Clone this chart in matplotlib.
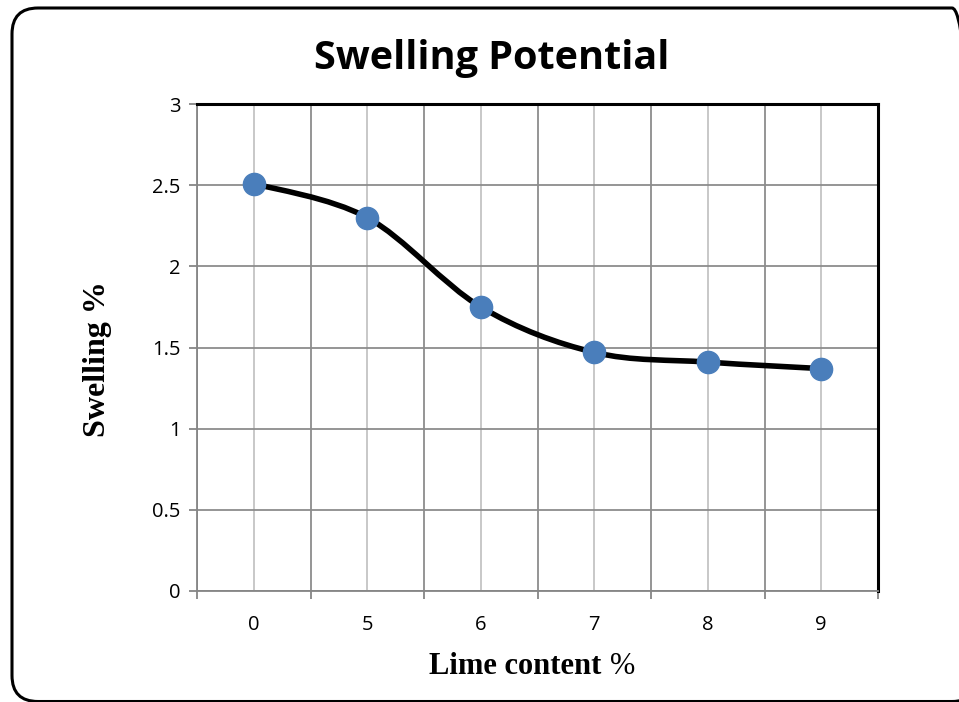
import numpy as np
import matplotlib
matplotlib.use("Agg")
import matplotlib.pyplot as plt
from matplotlib.path import Path
from matplotlib.patches import PathPatch, FancyBboxPatch
from matplotlib.transforms import IdentityTransform
from matplotlib.offsetbox import TextArea, HPacker, AnchoredOffsetbox

categories = ["0", "5", "6", "7", "8", "9"]
swelling = [2.51, 2.30, 1.75, 1.47, 1.41, 1.37]
yticks = [0, 0.5, 1, 1.5, 2, 2.5, 3]
ytick_labels = ["0", "0.5", "1", "1.5", "2", "2.5", "3"]

W, H = 959, 702
fig = plt.figure(figsize=(W / 100, H / 100), dpi=100)

# rounded outer frame, in output pixels (y measured from the bottom)
fl, ft, fr, fb = 12, 8, 978, 701.5
frame = FancyBboxPatch((fl, H - fb), fr - fl, fb - ft,
                       boxstyle="round,pad=0,rounding_size=26",
                       fill=False, lw=2.2, edgecolor="black",
                       transform=IdentityTransform(), clip_on=False)
fig.patches.append(frame)

L, R, T, B = 197, 878, 104, 591
ax = fig.add_axes([L / W, 1 - B / H, (R - L) / W, (B - T) / H])

x = np.arange(len(categories))
ax.set_xlim(-0.5, len(categories) - 0.5)
ax.set_ylim(0, 3)

# gridlines
for xb in np.arange(-0.5, len(categories) + 0.5, 1.0):
    ax.axvline(xb, color="#8c8c8c", lw=1.3, zorder=1)
for xc in x:
    ax.axvline(xc, color="#c4c4c4", lw=1.3, zorder=1)
for yv in yticks:
    ax.axhline(yv, color="#8c8c8c", lw=1.3, zorder=1)

# smooth (Catmull-Rom style) curve through the points
P = np.column_stack([x, swelling]).astype(float)
ext = np.vstack([P[0], P, P[-1]])
verts = [tuple(P[0])]
codes = [Path.MOVETO]
for i in range(len(P) - 1):
    p0, p1, p2, p3 = ext[i], ext[i + 1], ext[i + 2], ext[i + 3]
    c1 = p1 + (p2 - p0) / 6.0
    c2 = p2 - (p3 - p1) / 6.0
    verts += [tuple(c1), tuple(c2), tuple(p2)]
    codes += [Path.CURVE4] * 3
ax.add_patch(PathPatch(Path(verts, codes), fill=False, lw=4.0,
                       edgecolor="black", capstyle="round", zorder=3))
ax.plot(x, swelling, ls="none", marker="o", ms=16, color="#4a7ebb",
        mec="#4a7ebb", zorder=4)

# spines
for s in ["top", "right"]:
    ax.spines[s].set_color("black")
    ax.spines[s].set_linewidth(2.2)
for s in ["left", "bottom"]:
    ax.spines[s].set_color("#868686")
    ax.spines[s].set_linewidth(1.3)

ax.set_yticks(yticks)
ax.set_yticklabels(ytick_labels, fontsize=14.5, family="Open Sans")
ax.tick_params(axis="y", length=6, width=1.3, color="#868686", pad=6)
ax.set_xticks(np.arange(-0.5, len(categories) + 0.5, 1.0))
ax.set_xticklabels([])
ax.tick_params(axis="x", length=6, width=1.3, color="#868686")
for xi, lab in zip(x, categories):
    ax.text(xi, -0.145, lab, ha="center", va="top", fontsize=14.5,
            family="Open Sans", transform=ax.transData)

fig.text(492 / W, 1 - 58 / H, "Swelling Potential", ha="center", va="center",
         fontsize=28.5, fontweight="bold", family="Open Sans")

fig.text(97 / W, 1 - 359 / H, "Swelling %", rotation=90, ha="center",
         va="center", fontsize=23, fontweight="bold", family="Liberation Serif")

t1 = TextArea("Lime content", textprops=dict(fontsize=22, fontweight="bold",
                                              family="Liberation Serif"))
t2 = TextArea("%", textprops=dict(fontsize=22, family="Liberation Serif"))
box = HPacker(children=[t1, t2], align="baseline", pad=0, sep=6)
anch = AnchoredOffsetbox(loc="center", child=box, frameon=False,
                         bbox_to_anchor=(532 / W, 1 - 666 / H),
                         bbox_transform=fig.transFigure, pad=0, borderpad=0)
fig.add_artist(anch)

fig.savefig("out.png", dpi=100)
